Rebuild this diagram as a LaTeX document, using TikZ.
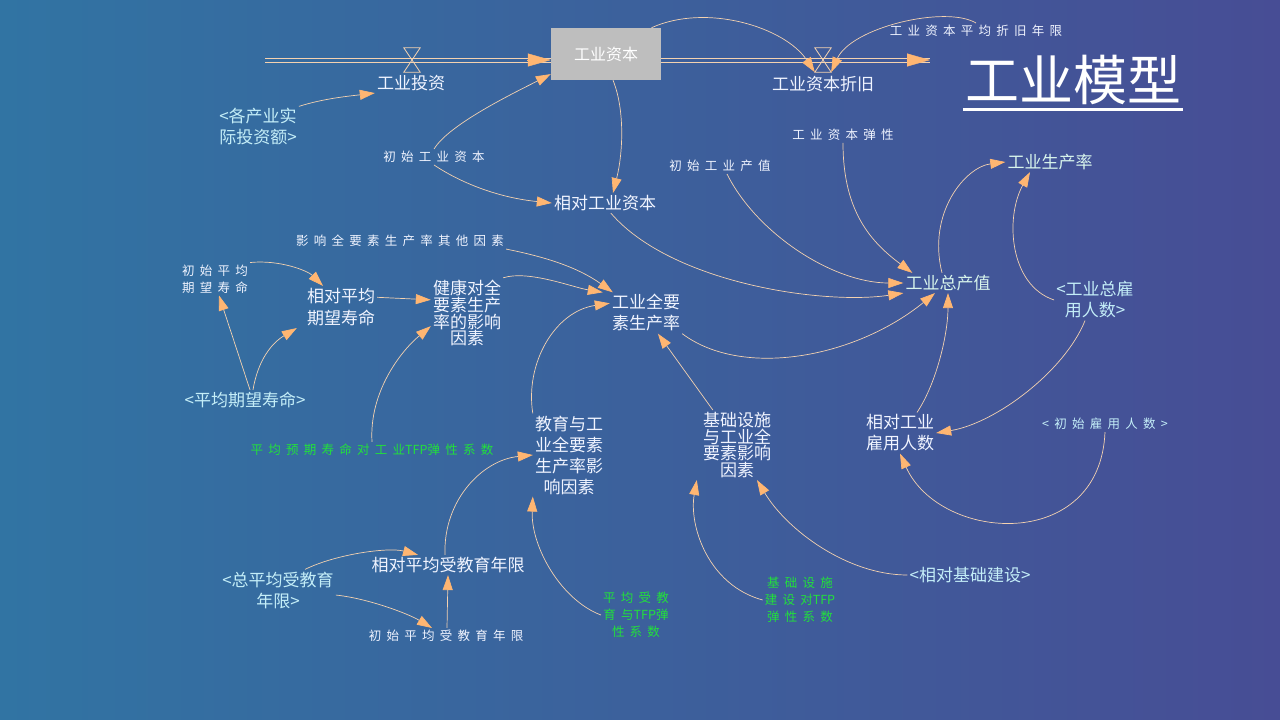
\documentclass[tikz,border=0pt]{standalone}
\usepackage{fontspec}
\setmainfont{Noto Sans CJK SC}
\newfontfamily\spacedfont[LetterSpace=42]{Noto Sans CJK SC}
\newfontfamily\plainfont{Noto Sans CJK SC}
\usetikzlibrary{arrows.meta}

\definecolor{bgleft}{HTML}{3174A3}
\definecolor{bgright}{HTML}{474D95}
\definecolor{linkline}{HTML}{F4D2B0}
\definecolor{linktip}{HTML}{FFB672}
\definecolor{lettext}{HTML}{F0F4FF}
\definecolor{shadowtext}{HTML}{C4EEF8}
\definecolor{outtext}{HTML}{D8F5EC}
\definecolor{coeftext}{HTML}{22E03C}
\definecolor{stockfill}{HTML}{BEBEBE}

\begin{document}
\begin{tikzpicture}[
		x=1pt, y=-1pt,
		every node/.style={inner sep=2pt, align=center, text=lettext},
		var/.style={font=\fontsize{17}{21}\selectfont},
		tight/.style={font=\fontsize{17}{14.5}\selectfont},
		small/.style={font=\spacedfont\fontsize{12.5}{17}\selectfont},
		shadowvar/.style={var, text=shadowtext},
		coef/.style={small, text=coeftext},
		valve/.style={minimum width=16pt, minimum height=24pt, inner sep=0pt},
		link/.style={draw=linkline, line width=0.7pt, -{Triangle[length=15pt, width=10pt, color=linktip, fill=linktip]}},
		pipe/.style={draw=linkline, line width=0.8pt},
		pipetip/.style={draw=linktip, -{Triangle[length=23pt, width=13pt, color=linktip, fill=linktip]}}
	]
  \useasboundingbox (0,0) rectangle (1280,720);
  \shade[left color=bgleft, right color=bgright] (0,0) rectangle (1280,720);

  % stock, flows and valves
  \node (stock) [fill=stockfill, minimum width=110pt, minimum height=52pt, font=\fontsize{16}{18}\selectfont, text=white] at (606,54) {工业资本};
  \coordinate (cloudin) at (265,60);
  \coordinate (cloudout) at (930,60);
  \coordinate (stockin) at (cloudin -| stock.west);
  \coordinate (stockout) at (cloudout -| stock.east);
  \node (invv) [valve] at (412,60) {};
  \node (depv) [valve] at (823,60) {};
  \node (inv) [var] at (411,83) {工业投资};
  \node (dep) [var] at (823,84) {工业资本折旧};
  \node (deplife) [small] at (976,31) {工业资本平均折旧年限};
  \node (title) [font=\fontsize{54}{60}\selectfont, text=white] at (1073,80) {工业模型};

  % auxiliaries
  \node (invsrc) [shadowvar] at (258,127) {<各产业实\\际投资额>};
  \node (k0) [small] at (434,157) {初始工业资本};
  \node (relk) [var] at (605,203) {相对工业资本};
  \node (otherf) [small] at (400,241) {影响全要素生产率其他因素};
  \node (le0) [small] at (215,279) {初始平均\\期望寿命};
  \node (relle) [font=\fontsize{17}{22}\selectfont] at (341,307) {相对平均\\期望寿命};
  \node (hlth) [tight] at (467,313) {健康对全\\要素生产\\率的影响\\因素};
  \node (tfp) [var] at (646,313) {工业全要\\素生产率};
  \node (le) [shadowvar] at (245,400) {<平均期望寿命>};
  \node (lecoef) [coef] at (372,450) {平均预期寿命对工业{\plainfont TFP}弹性系数};
  \node (edu) [var] at (569,455) {教育与工\\业全要素\\生产率影\\响因素};
  \node (infra) [tight] at (737,445) {基础设施\\与工业全\\要素影响\\因素};
  \node (y0) [small] at (720,166) {初始工业产值};
  \node (kel) [small] at (843,135) {工业资本弹性};
  \node (gdp) [var, text=outtext] at (948,283) {工业总产值};
  \node (prod) [var, text=outtext] at (1050,162) {工业生产率};
  \node (emp) [shadowvar] at (1095,300) {<工业总雇\\用人数>};
  \node (relemp) [var] at (900,433) {相对工业\\雇用人数};
  \node (emp0) [small, text=shadowtext] at (1105,424) {<初始雇用人数>};
  \node (reledu) [var] at (448,565) {相对平均受教育年限};
  \node (edu0src) [shadowvar] at (278,590) {<总平均受教育\\年限>};
  \node (edu0) [small] at (446,636) {初始平均受教育年限};
  \node (educoef) [coef] at (636,615) {平均受教\\育与{\plainfont TFP}弹\\性系数};
  \node (infcoef) [coef] at (800,600) {基础设施\\建设对{\plainfont TFP}\\弹性系数};
  \node (infsrc) [shadowvar] at (970,575) {<相对基础建设>};

  % pipes
  \draw[pipe] ([yshift=2pt]cloudin) -- ([yshift=2pt]stockin);
  \draw[pipe] ([yshift=-2pt]cloudin) -- ([yshift=-2pt]stockin);
  \draw[pipetip] ([xshift=-23.5pt]stockin) -- (stockin);
  \draw[pipe] ([yshift=2pt]stockout) -- ([yshift=2pt]cloudout);
  \draw[pipe] ([yshift=-2pt]stockout) -- ([yshift=-2pt]cloudout);
  \draw[pipetip] ([xshift=-23.5pt]cloudout) -- (cloudout);
  \foreach \v in {invv, depv}
    \draw[pipe] (\v.north west) -- (\v.north east) -- (\v.south west) -- (\v.south east) -- cycle;
  \draw[white, line width=3pt] ([yshift=-2pt]title.south west) -- ([yshift=-2pt]title.south east);

  % links
  \draw[link] (invsrc.north east) .. controls +(25,-8) and +(-25,3) .. (inv.south west);
  \draw[link] (k0.north) .. controls +(15,-25) and +(-35,18) .. (stock.200);
  \draw[link] (k0.south) .. controls +(30,20) and +(-50,-5) .. (relk.west);
  \draw[link] (stock.-75) .. controls +(12,30) and +(10,-40) .. ([xshift=8pt]relk.north);
  \draw[link] (stock.30) .. controls +(55,-25) and +(-30,-45) .. (depv.south west);
  \draw[link] (deplife.north) .. controls +(-30,-18) and +(20,-45) .. (depv.south east);
  \draw[link] (otherf.south east) .. controls +(40,8) and +(-35,-25) .. ([xshift=3pt]tfp.north west);
  \draw[link] (le0.north east) .. controls +(30,-3) and +(-15,-15) .. ([xshift=-18pt]relle.north);
  \draw[link] (relle.15) -- (hlth.160);
  \draw[link] (hlth.north east) .. controls +(25,-8) and +(-30,-5) .. ([xshift=-7pt]tfp.north west);
  \draw[link] ([xshift=5pt]le.north) -- ([xshift=4pt]le0.south);
  \draw[link] ([xshift=8pt]le.north) .. controls +(5,-30) and +(-25,15) .. ([xshift=-8pt]relle.south west);
  \draw[link] (lecoef.north) .. controls +(-3,-50) and +(-30,25) .. (hlth.200);
  \draw[link] (edu.north west) .. controls +(-8,-50) and +(-55,8) .. (tfp.165);
  \draw[link] ([xshift=12pt]infra.north west) -- (tfp.-60);
  \draw[link] (relk.-60) .. controls +(60,70) and +(-80,12) .. (gdp.south west);
  \draw[link] (tfp.south east) .. controls +(60,45) and +(-80,65) .. ([xshift=-13pt]gdp.south);
  \draw[link] ([xshift=7pt]y0.south) .. controls +(30,60) and +(-70,0) .. (gdp.west);
  \draw[link] (kel.south) .. controls +(0,70) and +(-40,-30) .. ([xshift=9pt]gdp.north west);
  \draw[link] ([xshift=17pt]relemp.north) .. controls +(20,-30) and +(0,40) .. (gdp.south);
  \draw[link] ([xshift=-6pt]gdp.north) .. controls +(-15,-60) and +(-40,5) .. (prod.west);
  \draw[link] (emp.west) .. controls +(-45,-15) and +(-25,45) .. ([xshift=-20pt]prod.south);
  \draw[link] ([xshift=-10pt]emp.south) .. controls +(-20,50) and +(60,-10) .. (relemp.east);
  \draw[link] (emp0.south) .. controls +(-5,121) and +(40,89) .. (relemp.south);
  \draw[link] ([xshift=-3pt]reledu.north) .. controls +(-2,-55) and +(-50,5) .. (edu.west);
  \draw[link] ([xshift=27pt]edu0src.north) .. controls +(30,-15) and +(-30,-8) .. ([xshift=-30pt]reledu.north);
  \draw[link] (edu0src.-5) .. controls +(30,3) and +(-25,-15) .. ([xshift=-14pt]edu0.north);
  \draw[link] ([xshift=1pt]edu0.north) -- (reledu.south);
  \draw[link] (educoef.west) .. controls +(-40,-15) and +(-2,50) .. (edu.south west);
  \draw[link] (infcoef.west) .. controls +(-55,-15) and +(-8,45) .. ([xshift=-4pt]infra.south west);
  \draw[link] (infsrc.west) .. controls +(-60,0) and +(30,50) .. ([xshift=20pt]infra.south);
\end{tikzpicture}
\end{document}
